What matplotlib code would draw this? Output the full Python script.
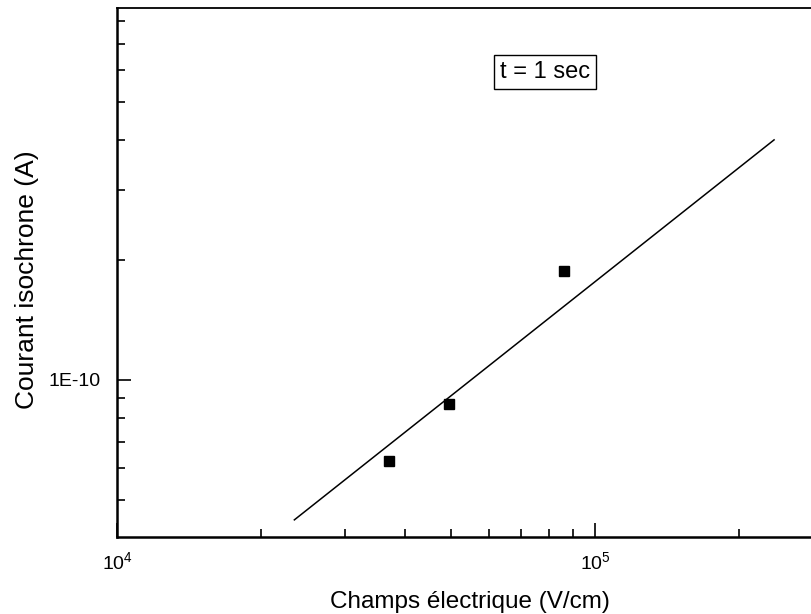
import math
import matplotlib
matplotlib.use("Agg")
import matplotlib.pyplot as plt
from matplotlib.ticker import LogLocator, FuncFormatter, NullFormatter

plt.rcParams['font.family'] = ['Liberation Sans', 'DejaVu Sans']
plt.rcParams['mathtext.fontset'] = 'custom'
plt.rcParams['mathtext.rm'] = 'Liberation Sans'
plt.rcParams['mathtext.default'] = 'regular'

# Measured isochronous current vs. electric field
field = [3.71e4, 4.94e4, 8.62e4]          # V/cm
current = [6.26e-11, 8.70e-11, 1.876e-10]  # A

# Power-law trend line (end points)
fit_field = [2.35e4, 2.37e5]
fit_current = [4.45e-11, 4.01e-10]

x_limits = (1e4, 3e5)
y_limits = (4.03e-11, 8.6e-10)
y_major = [1e-10]
y_major_labels = ["1E-10"]

fig = plt.figure(figsize=(8.12, 6.14), dpi=100)
ax = fig.add_axes([117 / 812, 77 / 614, 706 / 812, 529 / 614])

ax.plot(fit_field, fit_current, color='black', lw=1.1)
ax.plot(field, current, linestyle='none', marker='s', markersize=7.2,
        color='black')

ax.set_xscale('log')
ax.set_yscale('log')
ax.set_xlim(*x_limits)
ax.set_ylim(*y_limits)

ax.xaxis.set_major_locator(LogLocator(base=10, numticks=10))
ax.xaxis.set_minor_locator(LogLocator(base=10, subs=range(2, 10), numticks=20))
ax.xaxis.set_major_formatter(
    FuncFormatter(lambda v, p: r"$10^{%d}$" % round(math.log10(v))))
ax.xaxis.set_minor_formatter(NullFormatter())

ax.set_yticks(y_major)
ax.set_yticklabels(y_major_labels)
ax.yaxis.set_minor_locator(LogLocator(base=10, subs=range(2, 10), numticks=20))
ax.yaxis.set_minor_formatter(NullFormatter())

ax.tick_params(which='both', direction='in', top=False, right=False,
               labelsize=14, width=1.2, colors='black')
ax.tick_params(axis='x', which='major', length=10, pad=10)
ax.tick_params(axis='y', which='major', length=10, pad=12)
ax.tick_params(which='minor', length=6)

for side in ('left', 'bottom'):
    ax.spines[side].set_linewidth(1.8)
ax.spines['top'].set_linewidth(1.3)
ax.spines['right'].set_linewidth(1.3)

ax.set_xlabel("Champs électrique (V/cm)", fontsize=17.5, labelpad=13)
ax.set_ylabel("Courant isochrone (A)", fontsize=19)
ax.yaxis.set_label_coords(-0.111, 0.486)

fig.text(545 / 812, 1 - 72 / 614, "t = 1 sec", fontsize=17, ha='center',
         va='center',
         bbox=dict(boxstyle='square,pad=0.25', fc='white', ec='black', lw=1.0))

fig.savefig("out.png", dpi=100)
